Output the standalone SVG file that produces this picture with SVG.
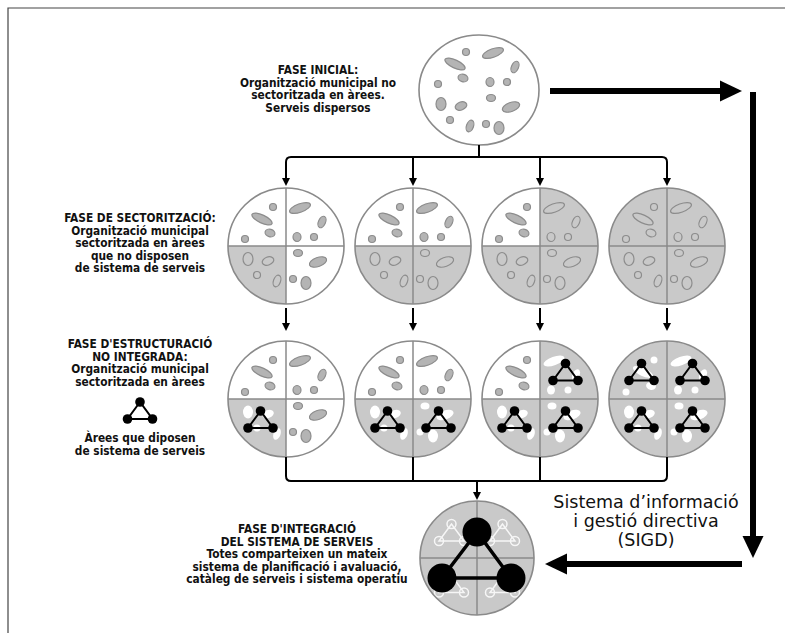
<svg xmlns="http://www.w3.org/2000/svg" xmlns:xlink="http://www.w3.org/1999/xlink" width="793" height="633" viewBox="0 0 793 633">
  <style>
    .lbl { font-family: "DejaVu Sans Condensed", "DejaVu Sans", "Liberation Sans", sans-serif; font-stretch: condensed; font-weight: bold; font-size: 11.8px; fill: #111; text-anchor: middle; }
    .sigd { font-family: "DejaVu Sans", "Liberation Sans", sans-serif; font-size: 17.5px; fill: #111; text-anchor: middle; }
    .rim { fill: #fff; stroke: #8a8a8a; stroke-width: 1.6; }
    .div { stroke: #8a8a8a; stroke-width: 1.5; fill: none; }
    .gray { fill: #c9c9c9; }
    .spots { fill: #b4b4b4; stroke: #8c8c8c; stroke-width: 1.2; }
    .rings { fill: none; stroke: #8c8c8c; stroke-width: 1.2; }
    .blots { fill: #fff; stroke: none; }
    .wire { fill: none; stroke: #000; stroke-width: 2; }
    .thick { fill: none; stroke: #000; stroke-width: 6; }
    .ghost { fill: none; stroke: #fff; stroke-width: 1.5; opacity: 0.85; }
  </style>
  <defs>
    <!-- quadrant sectors of a radius-58 disc -->
    <path id="qTL" d="M0,0 H-58 A58,58 0 0 1 0,-58 Z"/>
    <path id="qTR" d="M0,0 V-58 A58,58 0 0 1 58,0 Z"/>
    <path id="qBR" d="M0,0 H58 A58,58 0 0 1 0,58 Z"/>
    <path id="qBL" d="M0,0 V58 A58,58 0 0 1 -58,0 Z"/>
    <!-- scattered service shapes, one set per quadrant -->
    <g id="sTL">
      <circle cx="-13" cy="-39" r="3.5"/>
      <ellipse cx="-24" cy="-27" rx="11" ry="4" transform="rotate(25 -24 -27)"/>
      <ellipse cx="-16" cy="-13" rx="5" ry="3.8" transform="rotate(15 -16 -13)"/>
      <circle cx="-41" cy="-7" r="3.5"/>
    </g>
    <g id="sTR">
      <ellipse cx="14" cy="-38" rx="11" ry="4.2" transform="rotate(-20 14 -38)"/>
      <ellipse cx="36" cy="-24" rx="3.5" ry="6" transform="rotate(25 36 -24)"/>
      <ellipse cx="11" cy="-9" rx="4" ry="4.5"/>
      <circle cx="28" cy="-9" r="3.5"/>
    </g>
    <g id="sBL">
      <ellipse cx="-38" cy="13" rx="5" ry="6.5"/>
      <ellipse cx="-18" cy="15" rx="6" ry="4" transform="rotate(-20 -18 15)"/>
      <circle cx="-29" cy="29" r="3.5"/>
      <ellipse cx="-9" cy="35" rx="3.5" ry="6" transform="rotate(20 -9 35)"/>
    </g>
    <g id="sBR">
      <ellipse cx="12" cy="7" rx="4.5" ry="3.5"/>
      <ellipse cx="32" cy="16" rx="9" ry="4.5" transform="rotate(-20 32 16)"/>
      <circle cx="7" cy="33" r="3.5"/>
      <ellipse cx="20" cy="37" rx="5" ry="6.5"/>
    </g>
    <!-- service-system symbol: three linked nodes -->
    <g id="sys">
      <path d="M0,-8.5 L-12.5,8.5 L12.5,8.5 Z" fill="none" stroke="#000" stroke-width="2"/>
      <circle cx="0" cy="-8.5" r="4.8" fill="#000"/>
      <circle cx="-12.5" cy="8.5" r="4.8" fill="#000"/>
      <circle cx="12.5" cy="8.5" r="4.8" fill="#000"/>
    </g>
    <g id="sysGhost" class="ghost">
      <path d="M0,-8.5 L-12.5,8.5 L12.5,8.5 Z"/>
      <circle cx="0" cy="-8.5" r="4.5"/>
      <circle cx="-12.5" cy="8.5" r="4.5"/>
      <circle cx="12.5" cy="8.5" r="4.5"/>
    </g>
    <!-- quadrant with its own system: white blots + symbol -->
    <g id="xTL"><use href="#qTL" class="gray"/><use href="#sTL" class="blots"/><use href="#sys" x="-25.5" y="-27"/></g>
    <g id="xTR"><use href="#qTR" class="gray"/><use href="#sTR" class="blots"/><use href="#sys" x="25.5" y="-27"/></g>
    <g id="xBL"><use href="#qBL" class="gray"/><use href="#sBL" class="blots"/><use href="#sys" x="-25.5" y="20.5"/></g>
    <g id="xBR"><use href="#qBR" class="gray"/><use href="#sBR" class="blots"/><use href="#sys" x="25.5" y="20.5"/></g>
    <!-- plain gray quadrant (sectorised, no system) -->
    <g id="gTL"><use href="#qTL" class="gray"/><use href="#sTL" class="rings"/></g>
    <g id="gTR"><use href="#qTR" class="gray"/><use href="#sTR" class="rings"/></g>
    <g id="gBL"><use href="#qBL" class="gray"/><use href="#sBL" class="rings"/></g>
    <g id="gBR"><use href="#qBR" class="gray"/><use href="#sBR" class="rings"/></g>
    <!-- white quadrant -->
    <g id="wTL"><use href="#sTL" class="spots"/></g>
    <g id="wTR"><use href="#sTR" class="spots"/></g>
    <g id="wBL"><use href="#sBL" class="spots"/></g>
    <g id="wBR"><use href="#sBR" class="spots"/></g>
    <g id="frame4">
      <circle r="58" fill="none" stroke="#8a8a8a" stroke-width="1.6"/>
      <path class="div" d="M-58,0 H58 M0,-58 V58"/>
    </g>
    <marker id="tip" markerUnits="userSpaceOnUse" markerWidth="9" markerHeight="9" refX="0" refY="4" orient="auto">
      <path d="M0,0 L8,4 L0,8 Z" fill="#000"/>
    </marker>
  </defs>

  <rect width="793" height="633" fill="#fff"/>
  <path d="M8,633 V8 H785" fill="none" stroke="#444" stroke-width="1.2"/>

  <!-- initial phase -->
  <g id="phase-initial">
    <ellipse cx="479" cy="90" rx="60" ry="55" class="rim"/>
    <g transform="translate(479,91)">
      <use href="#sTL" class="spots"/><use href="#sTR" class="spots"/>
      <use href="#sBL" class="spots"/><use href="#sBR" class="spots"/>
    </g>
    <text class="lbl" x="318" y="74">FASE INICIAL:</text>
    <text class="lbl" x="318" y="86.5">Organització municipal no</text>
    <text class="lbl" x="318" y="99">sectoritzada en àrees.</text>
    <text class="lbl" x="318" y="111.5">Serveis dispersos</text>
  </g>

  <!-- sectorisation phase -->
  <g id="label-sectoritzacio">
    <text class="lbl" x="140" y="222">FASE DE SECTORITZACIÓ:</text>
    <text class="lbl" x="140" y="234.5">Organització municipal</text>
    <text class="lbl" x="140" y="247">sectoritzada en àrees</text>
    <text class="lbl" x="140" y="259.5">que no disposen</text>
    <text class="lbl" x="140" y="272">de  sistema de serveis</text>
  </g>
  <g id="sector-1" transform="translate(286,246)">
    <circle r="58" fill="#fff"/>
    <use href="#wTL"/><use href="#wTR"/><use href="#gBL"/><use href="#wBR"/>
    <use href="#frame4"/>
  </g>
  <g id="sector-2" transform="translate(413,246)">
    <circle r="58" fill="#fff"/>
    <use href="#wTL"/><use href="#wTR"/><use href="#gBL"/><use href="#gBR"/>
    <use href="#frame4"/>
  </g>
  <g id="sector-3" transform="translate(540,246)">
    <circle r="58" fill="#fff"/>
    <use href="#wTL"/><use href="#gTR"/><use href="#gBL"/><use href="#gBR"/>
    <use href="#frame4"/>
  </g>
  <g id="sector-4" transform="translate(667,246)">
    <circle r="58" fill="#fff"/>
    <use href="#gTL"/><use href="#gTR"/><use href="#gBL"/><use href="#gBR"/>
    <use href="#frame4"/>
  </g>

  <!-- non-integrated structuring phase -->
  <g id="label-estructuracio">
    <text class="lbl" x="140" y="348">FASE D'ESTRUCTURACIÓ</text>
    <text class="lbl" x="140" y="360.5">NO INTEGRADA:</text>
    <text class="lbl" x="140" y="373">Organització municipal</text>
    <text class="lbl" x="140" y="385.5">sectoritzada en àrees</text>
    <use href="#sys" x="140" y="410.5"/>
    <text class="lbl" x="140" y="442">Àrees que diposen</text>
    <text class="lbl" x="140" y="455">de sistema de serveis</text>
  </g>
  <g id="struct-1" transform="translate(286,399)">
    <circle r="58" fill="#fff"/>
    <use href="#wTL"/><use href="#wTR"/><use href="#xBL"/><use href="#wBR"/>
    <use href="#frame4"/>
  </g>
  <g id="struct-2" transform="translate(413,399)">
    <circle r="58" fill="#fff"/>
    <use href="#wTL"/><use href="#wTR"/><use href="#xBL"/><use href="#xBR"/>
    <use href="#frame4"/>
  </g>
  <g id="struct-3" transform="translate(540,399)">
    <circle r="58" fill="#fff"/>
    <use href="#wTL"/><use href="#xTR"/><use href="#xBL"/><use href="#xBR"/>
    <use href="#frame4"/>
  </g>
  <g id="struct-4" transform="translate(667,399)">
    <circle r="58" fill="#fff"/>
    <use href="#xTL"/><use href="#xTR"/><use href="#xBL"/><use href="#xBR"/>
    <use href="#frame4"/>
  </g>

  <!-- integration phase -->
  <g id="label-integracio">
    <text class="lbl" x="297" y="533">FASE D'INTEGRACIÓ</text>
    <text class="lbl" x="297" y="545.5">DEL SISTEMA DE SERVEIS</text>
    <text class="lbl" x="297" y="558">Totes comparteixen un mateix</text>
    <text class="lbl" x="297" y="570.5">sistema de planificació i avaluació,</text>
    <text class="lbl" x="297" y="583">catàleg de serveis i sistema operatiu</text>
  </g>
  <g id="integrated" transform="translate(477,558)">
    <circle r="57" class="gray"/>
    <use href="#sysGhost" x="-25.5" y="-25.5"/>
    <use href="#sysGhost" x="25.5" y="-25.5"/>
    <use href="#sysGhost" x="-25.5" y="26"/>
    <use href="#sysGhost" x="25.5" y="26"/>
    <circle r="57" fill="none" stroke="#8a8a8a" stroke-width="1.6"/>
    <path class="div" d="M-57,0 H57 M0,-57 V57"/>
    <path d="M0,-26 L-35,20 L34,20 Z" fill="none" stroke="#000" stroke-width="3.5"/>
    <circle cx="0" cy="-26" r="14.5" fill="#000"/>
    <circle cx="-35" cy="20" r="14.5" fill="#000"/>
    <circle cx="34" cy="20" r="14.5" fill="#000"/>
  </g>

  <!-- information and management system loop -->
  <g id="sigd">
    <text class="sigd" x="646" y="508">Sistema d’informació</text>
    <text class="sigd" x="646" y="527">i gestió directiva</text>
    <text class="sigd" x="646" y="546">(SIGD)</text>
  </g>

  <g id="connectors">
    <path class="wire" d="M479,145 V157 M291,157 H662"/>
    <path class="wire" d="M291,157 Q286,157 286,162 V178" marker-end="url(#tip)"/>
    <path class="wire" d="M413,157 V178" marker-end="url(#tip)"/>
    <path class="wire" d="M540,157 V178" marker-end="url(#tip)"/>
    <path class="wire" d="M662,157 Q667,157 667,162 V178" marker-end="url(#tip)"/>

    <path class="wire" d="M286,308 V323" marker-end="url(#tip)"/>
    <path class="wire" d="M413,308 V323" marker-end="url(#tip)"/>
    <path class="wire" d="M540,308 V323" marker-end="url(#tip)"/>
    <path class="wire" d="M667,308 V323" marker-end="url(#tip)"/>

    <path class="wire" d="M286,457 V476 Q286,481 291,481 H662 Q667,481 667,476 V457"/>
    <path class="wire" d="M413,457 V481 M540,457 V481"/>
    <path class="wire" d="M477,481 V492" marker-end="url(#tip)"/>

    <path class="thick" d="M550,91 H722"/>
    <path d="M742,91 L720,80.5 L720,101.5 Z" fill="#000"/>
    <path class="thick" d="M753,92 V538"/>
    <path d="M753,558 L742.5,536 L763.5,536 Z" fill="#000"/>
    <path class="thick" d="M742,564 H566"/>
    <path d="M545,564 L567,553.5 L567,574.5 Z" fill="#000"/>
  </g>
</svg>
